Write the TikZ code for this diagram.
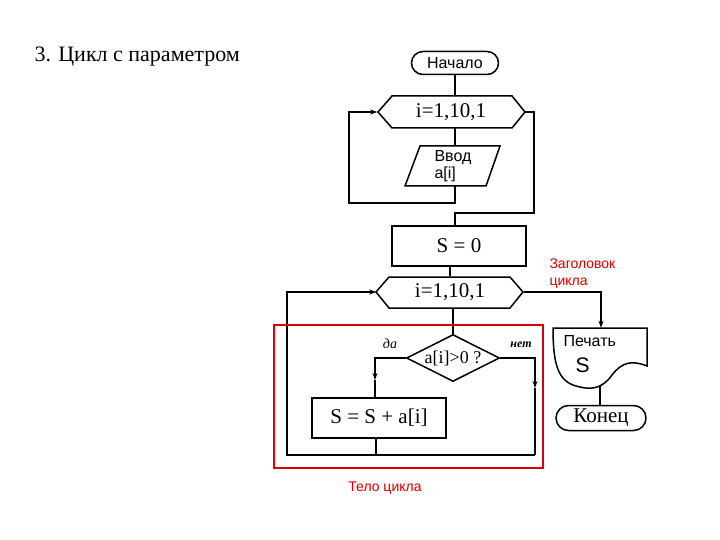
\documentclass[tikz,border=0pt]{standalone}
\usepackage{fontspec}
\setmainfont{Liberation Serif}
\newfontfamily\sansf{Liberation Sans}
\usetikzlibrary{shapes.geometric,shapes.misc,arrows.meta}
\begin{document}
\begin{tikzpicture}[x=1pt,y=-1pt,
  ln/.style={line width=1.5pt},
  tip/.style={ln,-{Stealth[length=7pt,width=5pt]}},
  term/.style={draw,ln,rounded rectangle,minimum width=87pt,minimum height=23pt,inner sep=0pt},
  hexa/.style={minimum width=147pt,minimum height=32pt,inner sep=0pt,font=\fontsize{21}{21}\selectfont},
  procbox/.style={draw,ln,minimum width=134pt,minimum height=40pt,inner sep=0pt,font=\fontsize{21}{21}\selectfont},
  red/.style={text=red!80!black,font=\sansf\fontsize{14}{17}\selectfont,align=left}]
\useasboundingbox (0,0) rectangle (720,540);
\node[anchor=west,font=\fontsize{22}{22}\selectfont] (title) at (31,57) {3. Цикл с параметром};
\node[term,font=\sansf\fontsize{16}{16}\selectfont] (start) at (455,63) {Начало};
\node[hexa] (h1) at (451,112) {i=1,10,1};
\draw[ln] (378,112) -- (392,96) -- (512,96) -- (525,112) -- (512,128) -- (392,128) -- cycle;
\node[minimum width=95pt,minimum height=40pt,inner sep=0pt,align=left,font=\sansf\fontsize{16}{17}\selectfont] (in) at (453,166) {Ввод\\a[i]};
\draw[ln] (420,146) -- (500,146) -- (486,186) -- (405,186) -- cycle;
\node[procbox] (s0) at (459,246) {S = 0};
\node[hexa] (h2) at (450,292) {i=1,10,1};
\draw[ln] (376,292) -- (389,277) -- (510,277) -- (523,292) -- (510,308) -- (389,308) -- cycle;
\node[draw,ln,diamond,aspect=2,minimum width=93pt,minimum height=47pt,inner sep=0pt,font=\fontsize{18}{18}\selectfont] (dia) at (453,358) {a[i]>0 ?};
\node[procbox] (sum) at (379,418) {S = S + a[i]};
\node[minimum width=94pt,minimum height=58pt,inner sep=0pt] (pr) at (600,357) {};
\node[anchor=north west,font=\sansf\fontsize{16}{16}\selectfont] (prt) at (560,332) {Печать};
\node[anchor=north west,font=\sansf\fontsize{21}{21}\selectfont] (prs) at (572,354) {S};
\node[term,minimum width=90pt,minimum height=25pt,font=\fontsize{21}{21}\selectfont] (end) at (601,418) {Конец};
\draw[ln] (553,328) -- (647,328) -- (647,366) .. controls (632,360) and (622,362) .. (612,375) .. controls (603,388) and (592,390) .. (580,387) .. controls (560,383) and (553,370) .. (553,328) -- cycle;
\coordinate (dn) at (600,386);
% connectors
\draw[ln] (start.south) -- (455,96);
\draw[ln] (455,128) -- (455,146);
\coordinate (a1) at (455,203); \coordinate (a2) at (349,203); \coordinate (a3) at (349,112);
\draw[tip] (455,186) -- (a1) -- (a2) -- (a3) -- (h1.west);
\coordinate (b1) at (534,112); \coordinate (b2) at (534,213); \coordinate (b3) at (455,213);
\draw[ln] (h1.east) -- (b1) -- (b2) -- (b3) -- (b3 |- s0.north);
\draw[ln] (s0.south -| h2.north) -- (h2.north);
\coordinate (c1) at (601,292);
\draw[tip] (h2.east) -- (c1) -- (c1 |- pr.north);
\draw[ln] (dn) -- (dn |- end.north);
\draw[ln] (dia.north |- h2.south) -- (dia.north);
\coordinate (d1) at (375,358); \coordinate (d2) at (375,380);
\draw[tip] (dia.west) -- (d1) -- (d2);
\draw[ln] (d2) -- (d2 |- sum.north);
\coordinate (e1) at (535,358); \coordinate (e2) at (535,388); \coordinate (e3) at (535,455);
\draw[tip] (dia.east) -- (e1) -- (e2);
\draw[ln] (e2) -- (e3);
\coordinate (f1) at (376,455); \coordinate (f2) at (287,455); \coordinate (f3) at (287,292);
\draw[ln] (sum.south -| f1) -- (f1);
\draw[tip] (e3) -- (f2) -- (f3) -- (h2.west);
\node[font=\itshape\fontsize{14}{14}\selectfont] (yes) at (390,344) {да};
\node[font=\itshape\bfseries\fontsize{12}{12}\selectfont] (no) at (521,345) {нет};
\draw[red!85!black,line width=1.8pt] (274,325) rectangle (543,468);
\node[red,anchor=north west] (zag) at (546,255) {Заголовок\\цикла};
\node[red] (body) at (385,488) {Тело цикла};
\end{tikzpicture}
\end{document}
